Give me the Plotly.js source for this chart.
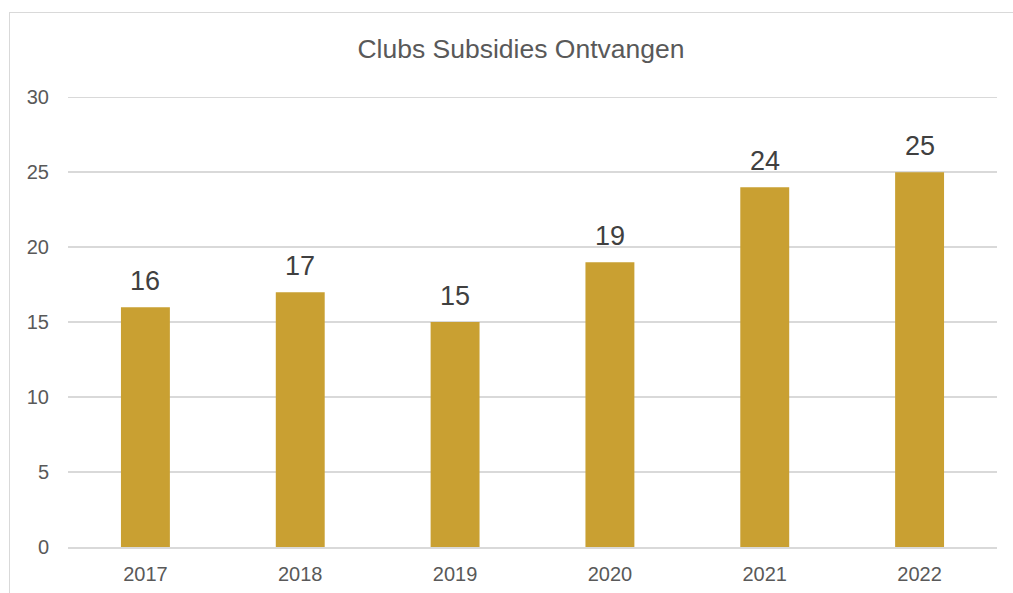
<!DOCTYPE html>
<html>
<head>
<meta charset="utf-8">
<script src="https://cdn.plot.ly/plotly-3.0.1.min.js"></script>
<style>
html,body{margin:0;padding:0;background:#fff;overflow:hidden;}
#wrap{position:relative;width:1013px;height:593px;}
#chart{width:1013px;height:593px;}
#frame{position:absolute;left:9px;top:12px;width:1200px;height:800px;border:1px solid #d9d9d9;box-sizing:border-box;pointer-events:none;}
</style>
</head>
<body>
<div id="wrap"><div id="chart"></div><div id="frame"></div></div>
<script>
const years = ['2017','2018','2019','2020','2021','2022'];
const values = [16, 17, 15, 19, 24, 25];
const yTicks = [0, 5, 10, 15, 20, 25, 30];

const font = 'Liberation Sans, Arial, sans-serif';
const trace = {
  type: 'bar',
  x: years,
  y: values,
  marker: {color: '#C9A032'},
  hoverinfo: 'none'
};
const annotations = years.map((yr, i) => ({
  x: i, y: values[i], xref: 'x', yref: 'y',
  text: String(values[i]), showarrow: false,
  yanchor: 'bottom', yshift: 9,
  font: {family: font, size: 27, color: '#404040'}
}));
const layout = {
  width: 1013, height: 593,
  margin: {l: 68, r: 16, t: 95, b: 46},
  paper_bgcolor: '#fff', plot_bgcolor: '#fff',
  bargap: 0.684,
  showlegend: false,
  title: {text: 'Clubs Subsidies Ontvangen', x: 521/1013, xanchor: 'center', y: 1 - 49/593, yanchor: 'middle',
          font: {family: font, size: 26.5, color: '#595959'}},
  xaxis: {type: 'category', range: [-0.5, 5.5], showgrid: false, showline: true, linecolor: '#d9d9d9', linewidth: 1.5,
          ticks: 'outside', ticklen: 8, tickcolor: 'rgba(0,0,0,0)',
          tickfont: {family: font, size: 20, color: '#595959'}, fixedrange: true},
  yaxis: {range: [0, 30.15], tickvals: yTicks, ticktext: yTicks.map(String), showgrid: true, gridcolor: '#d9d9d9', gridwidth: 1.5,
          zeroline: false, showline: false, ticks: 'outside', ticklen: 14, tickcolor: 'rgba(0,0,0,0)',
          tickfont: {family: font, size: 20, color: '#595959'}, fixedrange: true},
  annotations: annotations
};
Plotly.newPlot('chart', [trace], layout, {displayModeBar: false, staticPlot: true});
</script>
</body>
</html>
